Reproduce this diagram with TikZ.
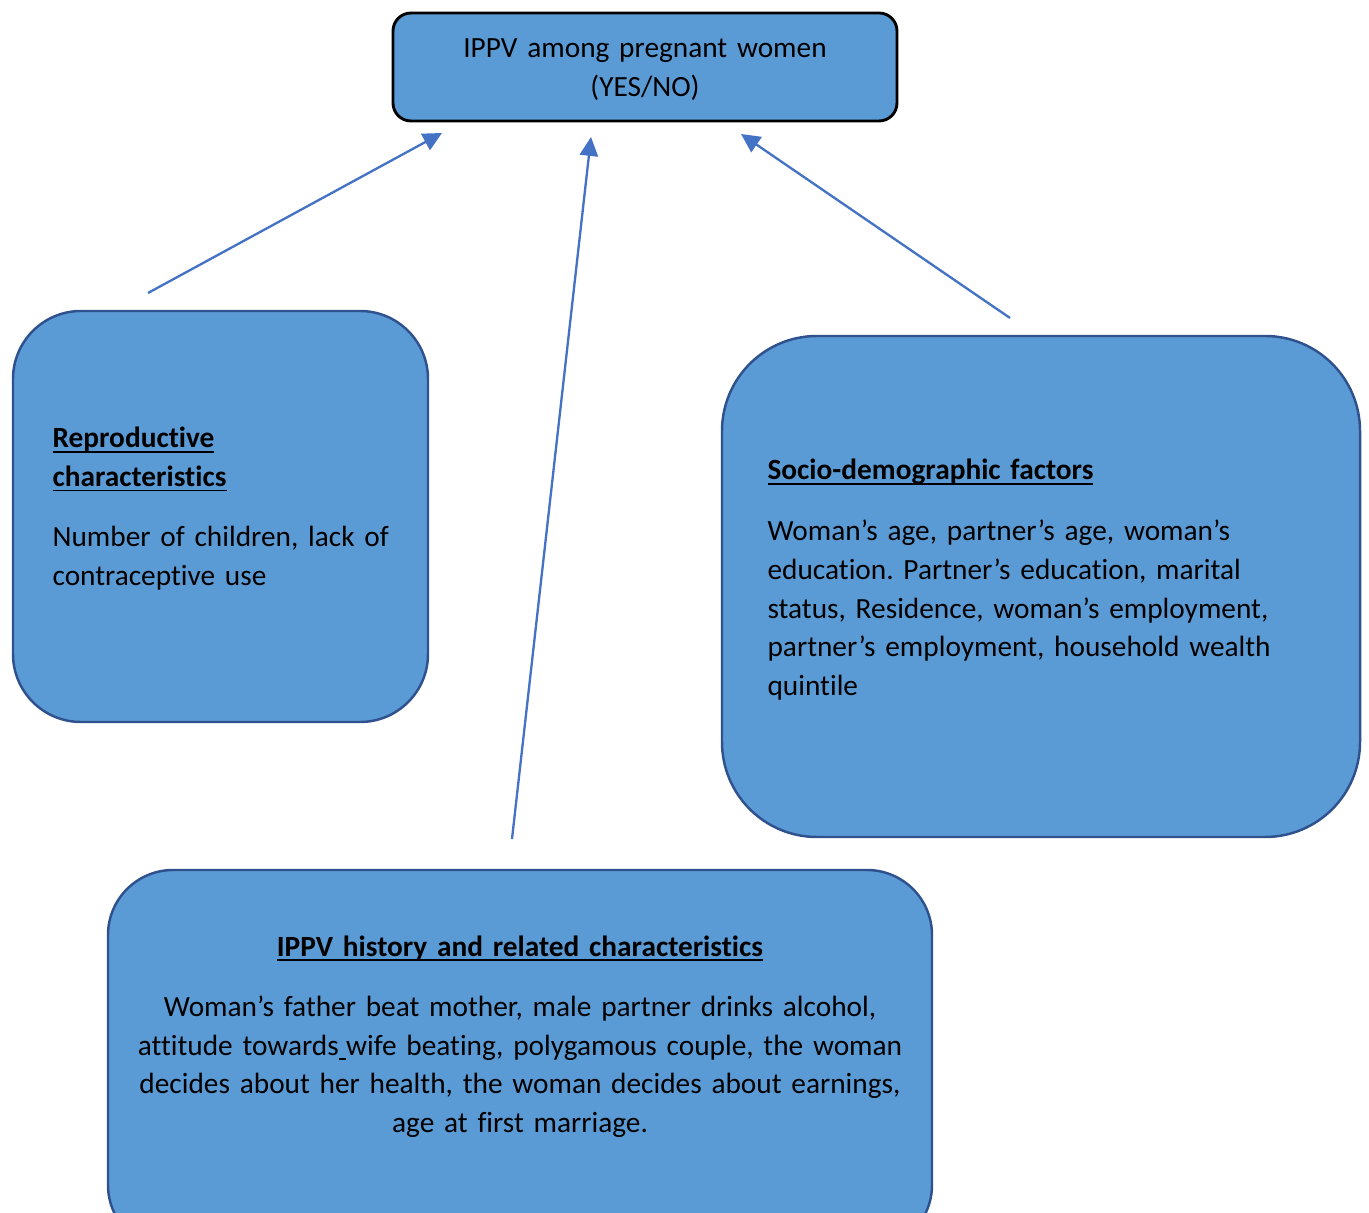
\documentclass[tikz,border=0pt]{standalone}
\usepackage{fontspec}
\setmainfont{Carlito}[Ligatures=NoCommon]
\usetikzlibrary{arrows.meta}
\definecolor{boxblue}{HTML}{5B9BD5}
\definecolor{edgeblue}{HTML}{2F528F}
\definecolor{arrowblue}{HTML}{4472C4}
\tikzstyle{bigbox} = [rectangle, draw=edgeblue, line width=0.85pt, fill=boxblue, inner sep=0pt]
\tikzstyle{txt} = [inner sep=0pt, font=\fontsize{10.1}{13.35}\selectfont\frenchspacing]
\newcommand{\hd}[1]{\textbf{\underline{\smash{#1}}}}

\begin{document}
\begin{tikzpicture}[
x = 0.3444pt, y = -0.3444pt,
link/.style = {draw=arrowblue, line width=0.8pt, -{Triangle[length=6.5pt,width=6.3pt]}}
                        ]
\useasboundingbox (0,0) rectangle (1369,1213);
% boxes
\node [bigbox, draw=black, line width=1pt, rounded corners=6.2pt,
  minimum width=504*0.3444pt, minimum height=108*0.3444pt] (outbox) at (645,67) {};
\node [bigbox, rounded corners=23.4pt,
  minimum width=415*0.3444pt, minimum height=411*0.3444pt] (repbox) at (220.5,516.5) {};
\node [bigbox, rounded corners=32.7pt,
  minimum width=638*0.3444pt, minimum height=501*0.3444pt] (sociobox) at (1041,586.5) {};
\node [bigbox, rounded corners=22.4pt,
  minimum width=824*0.3444pt, minimum height=380*0.3444pt] (histbox) at (520,1060) {};
% texts
\node [txt, text width=170pt, align=center, anchor=base] (outtxt) at (645,58)
  {IPPV among pregnant women\\ (YES/NO)};
\node [txt, text width=130pt, align=left, anchor=base west] (reptxt) at (52,448)
  {\hd{Reproductive}\\ \hd{characteristics}\\[7.2pt]
   Number of children, lack of\\ contraceptive use};
\node [txt, text width=200pt, align=left, anchor=base west] (sociotxt) at (767,480)
  {\hd{Socio-demographic factors}\\[7.5pt]
   Woman’s age, partner’s age, woman’s\\
   education. Partner’s education, marital\\
   status, Residence, woman’s employment,\\
   partner’s employment, household wealth\\
   quintile};
\node [txt, text width=300pt, align=center, anchor=base] (histtxt) at (520,956)
  {\hd{IPPV history and related characteristics}\\[7.4pt]
   Woman’s father beat mother, male partner drinks alcohol,\\
   attitude towards\underline{\hspace{2.5pt}}wife beating, polygamous couple, the woman\\
   decides about her health, the woman decides about earnings,\\
   age at first marriage.};
% arrows
\coordinate (repfrom) at (148,293);
\coordinate (repto) at (442,133);
\coordinate (histfrom) at (512,839);
\coordinate (histto) at (591,137);
\coordinate (sociofrom) at (1010,318);
\coordinate (socioto) at (741,134);
\draw [link] (repfrom) -- (repto);
\draw [link] (histfrom) -- (histto);
\draw [link] (sociofrom) -- (socioto);
\end{tikzpicture}
\end{document}
